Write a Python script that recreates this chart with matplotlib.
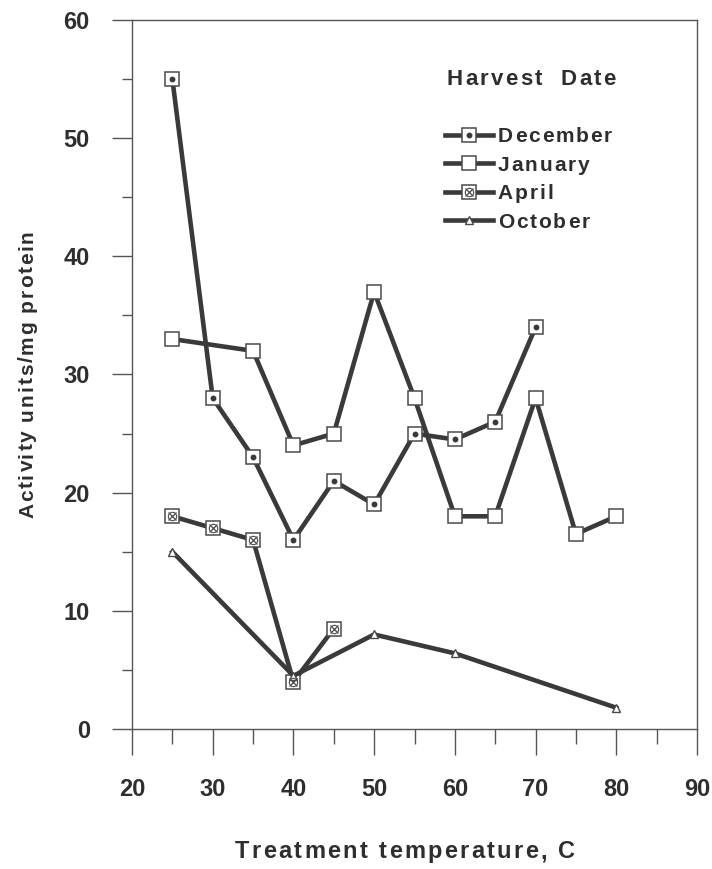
import matplotlib
matplotlib.use("Agg")
import matplotlib.pyplot as plt
from matplotlib.font_manager import FontProperties, findfont, get_font
from matplotlib.legend_handler import HandlerTuple
from matplotlib.ticker import MultipleLocator

# Harvest-date series: treatment temperature (C) vs activity (units/mg protein)
dec_temp = [25, 30, 35, 40, 45, 50, 55, 60, 65, 70]
dec_act = [55, 28, 23, 16, 21, 19, 25, 24.5, 26, 34]

jan_temp = [25, 35, 40, 45, 50, 55, 60, 65, 70, 75, 80]
jan_act = [33, 32, 24, 25, 37, 28, 18, 18, 28, 16.5, 18]

apr_temp = [25, 30, 35, 40, 45]
apr_act = [18, 17, 16, 4, 8.5]

oct_temp = [25, 40, 50, 60, 80]
oct_act = [15, 4.5, 8, 6.4, 1.8]

series_names = ["December", "January", "April", "October"]

W, H = 712, 869
FONT = "Liberation Sans"
INK = "#2e2e2e"
LINE = "#3a3a3a"
EDGE = "#4a4a4a"

plt.rcParams["font.family"] = [FONT, "DejaVu Sans"]
plt.rcParams["font.weight"] = "bold"

fig = plt.figure(figsize=(W / 100, H / 100), dpi=100)
ax = fig.add_axes([132 / W, 1 - 729 / H, (697 - 132) / W, (729 - 20) / H])


def advance(ch, prop):
    font = get_font(findfont(prop))
    font.set_size(prop.get_size_in_points(), fig.dpi)
    return font.load_char(ord(ch)).linearHoriAdvance / 65536


def tracked_text(x, y, s, size, track, rotation=0, align="center"):
    # letter-spaced text; x, y in pixels from the top-left, y is the baseline
    prop = FontProperties(family=FONT, weight="bold", size=size)
    widths = [advance(c, prop) for c in s]
    total = sum(widths) + track * (len(s) - 1)
    pos = -total / 2 if align == "center" else 0
    for c, w in zip(s, widths):
        if rotation == 90:
            px, py = x, y - pos
        else:
            px, py = x + pos, y
        fig.text(px / W, 1 - py / H, c, fontproperties=prop, color=INK,
                 rotation=rotation, rotation_mode="anchor",
                 ha="left", va="baseline")
        pos += w + track


lw = 3.3
sq = dict(marker="s", ms=9.5, mfc="white", mec=EDGE, mew=1.1)

dec_line, = ax.plot(dec_temp, dec_act, color=LINE, lw=lw, **sq, zorder=3)
dec_dot, = ax.plot(dec_temp, dec_act, ls="none", marker="o", ms=3.2,
                   color=LINE, zorder=4)

jan_line, = ax.plot(jan_temp, jan_act, color=LINE, lw=lw, **sq, zorder=3)

apr_line, = ax.plot(apr_temp, apr_act, color=LINE, lw=lw, **sq, zorder=3)
apr_x, = ax.plot(apr_temp, apr_act, ls="none", marker="x", ms=5.5, mew=0.9,
                 color=EDGE, zorder=4)
apr_o, = ax.plot(apr_temp, apr_act, ls="none", marker="o", ms=6, mew=0.8,
                 mfc="none", mec=EDGE, zorder=4)

oct_line, = ax.plot(oct_temp, oct_act, color=LINE, lw=lw, marker="^", ms=6,
                    mfc="white", mec=EDGE, mew=1.0, zorder=3)

ax.set_xlim(20, 90)
ax.set_ylim(0, 60)
ax.xaxis.set_major_locator(MultipleLocator(10))
ax.xaxis.set_minor_locator(MultipleLocator(5))
ax.yaxis.set_major_locator(MultipleLocator(10))
ax.yaxis.set_minor_locator(MultipleLocator(5))

for sp in ax.spines.values():
    sp.set_color("#555555")
    sp.set_linewidth(1.0)

ax.tick_params(axis="x", which="major", direction="out", length=19, width=1.0,
               color="#555555", pad=16, labelsize=17, labelcolor=INK)
ax.tick_params(axis="x", which="minor", direction="out", length=10.5,
               width=1.0, color="#555555")
ax.tick_params(axis="y", which="major", direction="out", length=14.4,
               width=1.0, color="#555555", pad=16, labelsize=17, labelcolor=INK)
ax.tick_params(axis="y", which="minor", direction="out", length=7.2,
               width=1.0, color="#555555")
for lab in ax.get_xticklabels() + ax.get_yticklabels():
    lab.set_fontweight("bold")

handles = [(dec_line, dec_dot), (jan_line,), (apr_line, apr_x, apr_o),
           (oct_line,)]
leg = ax.legend(handles, series_names,
                handler_map={tuple: HandlerTuple(ndivide=1, pad=0)},
                loc="upper left", bbox_to_anchor=(445 / W, 1 - 127 / H),
                bbox_transform=fig.transFigure, frameon=False,
                prop=FontProperties(family=FONT, weight="bold", size=15),
                handlelength=2.3, handletextpad=0.24, labelspacing=0.46,
                borderpad=0, borderaxespad=0)

tracked_text(447, 85, "Harvest  Date", 16, 2.2, align="left")
tracked_text(405, 858, "Treatment temperature, C", 17, 2.3)
tracked_text(33, 374, "Activity units/mg protein", 15, 1.8, rotation=90)

# swap the legend labels for letter-spaced copies at the same baseline
fig.canvas.draw()
for t in leg.get_texts():
    bx, by = t.get_transform().transform(t.get_position())
    t.set_visible(False)
    tracked_text(bx, H - by, t.get_text(), 15, 1.9, align="left")

fig.savefig("out.png", dpi=100, facecolor="white")
